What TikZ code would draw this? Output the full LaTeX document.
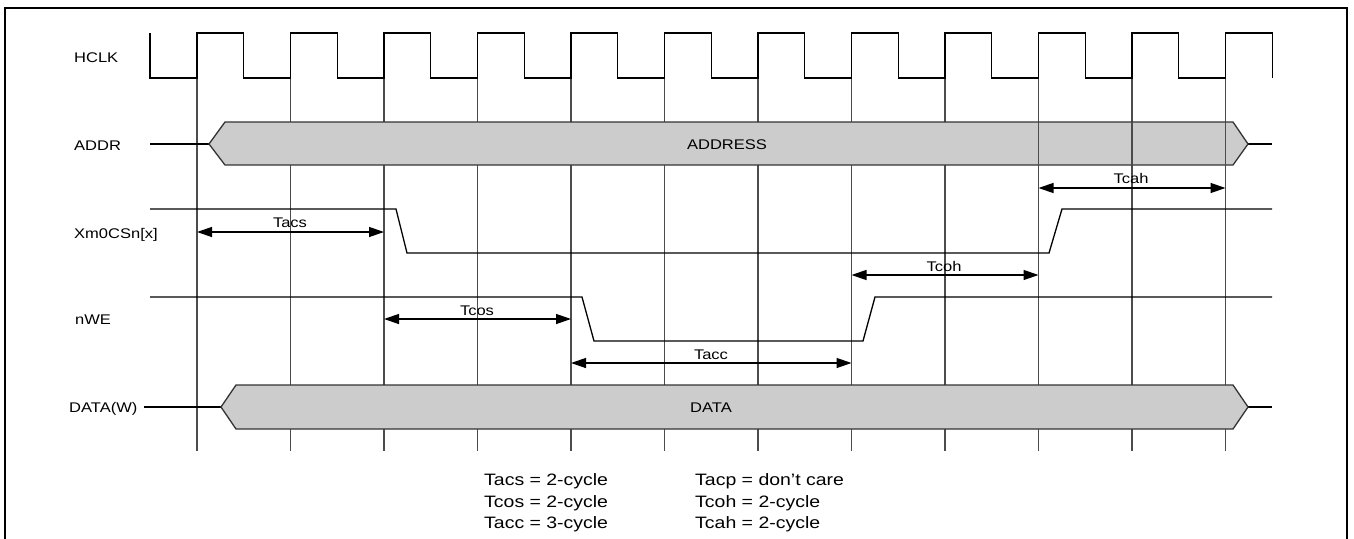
\documentclass[tikz,border=0pt]{standalone}
\usepackage{fontspec}
\setmainfont{Liberation Sans}[FakeStretch=1.18]
\usetikzlibrary{arrows.meta}
\definecolor{busfill}{HTML}{CCCCCC}
\tikzset{
  sig/.style={draw=black, line width=1.3pt, line join=miter},
  gridln/.style={draw=black!70, line width=1.3pt},
  busbox/.style={draw=black!80, line width=1.3pt, fill=busfill},
  dim/.style={draw=black, line width=1.3pt, {Triangle[length=15pt,width=10pt]}-{Triangle[length=15pt,width=10pt]}},
  lbl/.style={font=\fontsize{14}{16}\selectfont, inner sep=0pt, anchor=base west},
  tlbl/.style={font=\fontsize{14}{16}\selectfont, inner sep=0pt, anchor=base},
  note/.style={font=\fontsize{16.5}{20}\selectfont, inner sep=0pt, anchor=base west},
  frame/.style={draw=black, line width=2.2pt}
}
\begin{document}
\begin{tikzpicture}[x=1pt, y=-1pt]
\useasboundingbox (0,0) rectangle (1354,538);
\clip (0,0) rectangle (1354,538);
\draw[frame] (5,8.3) rectangle (1347,600);

% edge coordinates
\foreach \k in {0,...,11}{
  \coordinate (e\k) at ({197+93.5*\k},0);
}

% grid lines
\foreach \k in {0,...,11}{
  \draw[gridln] ({197+93.5*\k},33) -- ({197+93.5*\k},451);
}

% clock
\draw[sig] (150,33) -- (150,78)
  \foreach \k in {0,...,11}{
    -- ({197+93.5*\k},78) -- ({197+93.5*\k},33) -- ({243.75+93.5*\k},33) -- ({243.75+93.5*\k},78)
  };

% ADDR bus
\draw[sig] (150,144) -- (209,144);
\draw[sig] (1248,144) -- (1272,144);
\draw[busbox] (209,144) -- (225,122) -- (1233,122) -- (1248,144) -- (1233,165) -- (225,165) -- cycle;
\foreach \k in {9,10,11}{
  \draw[gridln] ({197+93.5*\k},122) -- ({197+93.5*\k},165);
}
\node[tlbl] (addrtxt) at (727,149) {ADDRESS};

% DATA bus
\draw[sig] (144,407) -- (221,407);
\draw[sig] (1248,407) -- (1272,407);
\draw[busbox] (221,407) -- (236,385) -- (1233,385) -- (1248,407) -- (1233,429) -- (236,429) -- cycle;
\node[tlbl] (datatxt) at (711,412) {DATA};

% Xm0CSn[x]
\draw[sig] (150,209) -- (396,209) -- (407,253) -- (1049,253) -- (1062,209) -- (1272,209);
% nWE
\draw[sig] (150,297) -- (582,297) -- (594,341) -- (863,341) -- (875,297) -- (1272,297);

% dimension arrows
\coordinate (acsA) at (e0 |- 0,232);
\coordinate (acsB) at (e2 |- 0,232);
\coordinate (cosA) at (e2 |- 0,319);
\coordinate (cosB) at (e4 |- 0,319);
\coordinate (accA) at (e4 |- 0,363);
\coordinate (accB) at (e7 |- 0,363);
\coordinate (cohA) at (e7 |- 0,275);
\coordinate (cohB) at (e9 |- 0,275);
\coordinate (cahA) at (e9 |- 0,188);
\coordinate (cahB) at (e11 |- 0,188);
\draw[dim] (acsA) -- (acsB);
\draw[dim] (cosA) -- (cosB);
\draw[dim] (accA) -- (accB);
\draw[dim] (cohA) -- (cohB);
\draw[dim] (cahA) -- (cahB);
\node[tlbl] (tacs) at (290,227) {Tacs};
\node[tlbl] (tcos) at (477,315) {Tcos};
\node[tlbl] (tacc) at (711,359) {Tacc};
\node[tlbl] (tcoh) at (944,271) {Tcoh};
\node[tlbl] (tcah) at (1131,183) {Tcah};

% signal labels
\node[lbl] (lhclk) at (74,62) {HCLK};
\node[lbl] (laddr) at (74,150) {ADDR};
\node[lbl] (lcs) at (74,238) {Xm0CSn[x]};
\node[lbl] (lnwe) at (75,324) {nWE};
\node[lbl] (ldata) at (69,412) {DATA(W)};

% notes
\node[note] (n1) at (484,485) {Tacs = 2-cycle};
\node[note] (n2) at (484,507) {Tcos = 2-cycle};
\node[note] (n3) at (484,528) {Tacc = 3-cycle};
\node[note] (n4) at (695,485) {Tacp = don’t care};
\node[note] (n5) at (695,507) {Tcoh = 2-cycle};
\node[note] (n6) at (695,528) {Tcah = 2-cycle};
\end{tikzpicture}
\end{document}
